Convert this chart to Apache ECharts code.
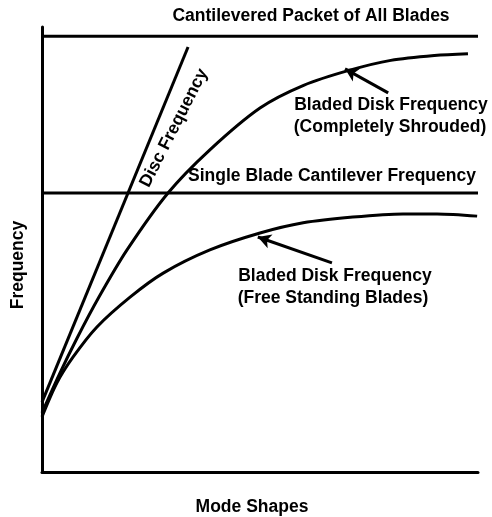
<!DOCTYPE html>
<html>
<head>
<meta charset="utf-8">
<script src="https://cdn.jsdelivr.net/npm/echarts@6/dist/echarts.min.js"></script>
<style>
html,body{margin:0;padding:0;background:#fff;}
#chart{width:492px;height:517px;}
</style>
</head>
<body>
<div id="chart"></div>
<script>
// Data (normalized units: x = mode shape 0..100, y = frequency 0..100)
var packetLine = [[0, 97.9], [100, 97.9]];
var singleBladeLine = [[0, 62.7], [100, 62.7]];
var discLine = [[0, 15.7], [33.5, 95.5]];
var shroudedX = [0, 4, 8, 13, 19.5, 28.9, 38.5, 50.0, 60.0, 70.6, 80.0, 90.0, 97.7];
var shroudedY = [13.3, 22.0, 30.0, 39.2, 49.9, 62.7, 72.4, 81.8, 86.9, 90.3, 92.5, 93.6, 94.0];
var freeX = [0, 3.4, 7.1, 12.6, 20.2, 27.8, 38.5, 50.0, 59.9, 71.3, 82.8, 90.6, 99.8];
var freeY = [12.4, 20.0, 25.8, 32.6, 39.3, 44.7, 49.9, 53.7, 56.0, 57.3, 58.0, 58.0, 57.5];
var shroudedArrow = [[79.4, 85.2], [69.5, 90.6]];
var freeArrow = [[66.5, 47.0], [49.5, 52.8]];

var labels = {
  packet: 'Cantilevered Packet of All Blades',
  single: 'Single Blade Cantilever Frequency',
  disc: 'Disc Frequency',
  shrouded1: 'Bladed Disk Frequency',
  shrouded2: '(Completely Shrouded)',
  free1: 'Bladed Disk Frequency',
  free2: '(Free Standing Blades)',
  xName: 'Mode Shapes',
  yName: 'Frequency'
};

function zip(xs, ys) { return xs.map(function (x, i) { return [x, ys[i]]; }); }

var FONT = 'bold 17.5px "Liberation Sans", Arial, sans-serif';
function txt(text, x, y, rot) {
  return {
    type: 'text', x: x, y: y, rotation: rot || 0,
    style: { text: text, x: 0, y: 0, textAlign: 'center', textVerticalAlign: 'middle', font: FONT, fill: '#000' },
    silent: true
  };
}

var lineStyle = { color: '#000', width: 3 };
var chart = echarts.init(document.getElementById('chart'));
chart.setOption({
  animation: false,
  backgroundColor: '#fff',
  grid: { left: 42, right: 14, top: 27, bottom: 45 },
  xAxis: {
    type: 'value', min: 0, max: 100,
    axisLine: { show: true, lineStyle: { color: '#000', width: 3 } },
    axisTick: { show: false }, axisLabel: { show: false }, splitLine: { show: false }
  },
  yAxis: {
    type: 'value', min: 0, max: 100,
    axisLine: { show: true, lineStyle: { color: '#000', width: 3 } },
    axisTick: { show: false }, axisLabel: { show: false }, splitLine: { show: false }
  },
  series: [
    { type: 'line', data: packetLine, symbol: 'none', lineStyle: lineStyle },
    { type: 'line', data: singleBladeLine, symbol: 'none', lineStyle: lineStyle },
    { type: 'line', data: discLine, symbol: 'none', lineStyle: lineStyle },
    { type: 'line', data: zip(shroudedX, shroudedY), symbol: 'none', smooth: 0.3, lineStyle: lineStyle },
    { type: 'line', data: zip(freeX, freeY), symbol: 'none', smooth: 0.3, lineStyle: lineStyle },
    {
      type: 'line', data: [], symbol: 'none',
      markLine: {
        silent: true, symbol: ['none', 'arrow'], symbolSize: [11, 13],
        label: { show: false },
        lineStyle: { color: '#000', width: 3, type: 'solid' },
        data: [
          [{ coord: shroudedArrow[0] }, { coord: shroudedArrow[1] }],
          [{ coord: freeArrow[0] }, { coord: freeArrow[1] }]
        ]
      }
    }
  ],
  graphic: [
    txt(labels.packet, 311, 16),
    txt(labels.single, 332, 176),
    txt(labels.shrouded1, 391, 105),
    txt(labels.shrouded2, 390, 127),
    txt(labels.free1, 335, 276),
    txt(labels.free2, 333, 298),
    txt(labels.disc, 174, 128, Math.PI * 63 / 180),
    txt(labels.yName, 18, 265, Math.PI / 2),
    txt(labels.xName, 252, 507)
  ]
});
</script>
</body>
</html>
